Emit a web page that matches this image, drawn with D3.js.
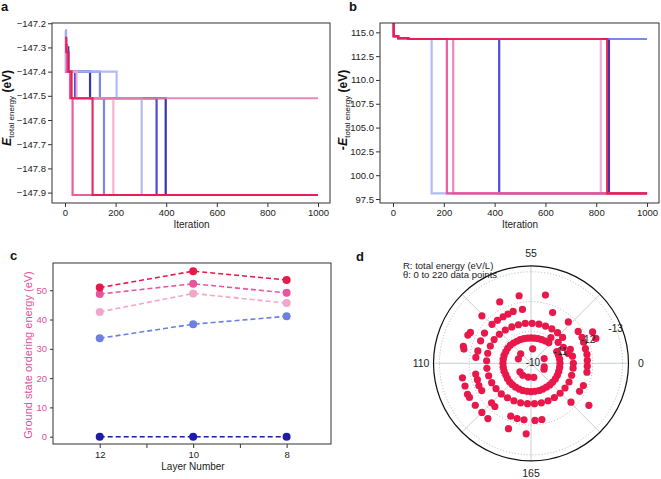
<!DOCTYPE html>
<html><head><meta charset="utf-8">
<script src="https://cdn.jsdelivr.net/npm/d3@7"></script>
<style>
body{margin:0;background:#fff}
svg{display:block}
text{font-family:"Liberation Sans",Arial,sans-serif}
</style>
</head><body>
<svg id="chart" width="661" height="479"></svg>
<script>
// ---------- DATA ----------
const seriesColors = ["#1f1f9c","#3a3ad0","#6a7ce4","#a9b5f2","#f5a8cd","#ee78b3","#ea4c93","#e8184c"];

// panel a: iteration where the energy steps, and the energy after that step
const aIters = [
  [0,13,99,398,1000],
  [0,10,40,362,1000],
  [0,4,138,154,1000],
  [0,3,204,303,1000],
  [0,6,46,191,1000],
  [0,22,1000],
  [0,8,20,30,1000],
  [0,5,14,26,109,1000]
];
const aEnergy = [
  [-147.30,-147.40,-147.51,-147.91,-147.91],
  [-147.31,-147.40,-147.51,-147.91,-147.91],
  [-147.23,-147.40,-147.51,-147.91,-147.91],
  [-147.23,-147.40,-147.51,-147.91,-147.91],
  [-147.27,-147.40,-147.51,-147.91,-147.91],
  [-147.40,-147.51,-147.51],
  [-147.29,-147.40,-147.51,-147.91,-147.91],
  [-147.26,-147.32,-147.40,-147.51,-147.91,-147.91]
];
const aTicks = [-147.2,-147.3,-147.4,-147.5,-147.6,-147.7,-147.8,-147.9];
const iterTicks = [0,200,400,600,800,1000];

// panel b: -E total energy
const bIters = [
  [0,3,20,60,850,1000],
  [0,3,20,60,418,1000],
  [0,3,20,60,1000],
  [0,3,20,60,152,1000],
  [0,3,20,60,818,1000],
  [0,3,20,60,237,1000],
  [0,3,20,60,212,1000],
  [0,3,20,60,843,1000]
];
const bEnergy = [
  [116.5,114.6,114.4,114.3,98.1,98.1],
  [116.5,114.6,114.4,114.3,98.1,98.1],
  [116.5,114.6,114.4,114.3,114.3],
  [116.5,114.6,114.4,114.3,98.1,98.1],
  [116.5,114.6,114.4,114.3,98.1,98.1],
  [116.5,114.6,114.4,114.3,98.1,98.1],
  [116.5,114.6,114.4,114.3,98.1,98.1],
  [116.5,114.6,114.4,114.3,98.1,98.1]
];
const bTicks = [97.5,100.0,102.5,105.0,107.5,110.0,112.5,115.0];

// panel c
const layerNumbers = [12,10,8];
const cColors = ["#1c1ca6","#6c7fe2","#f4a6ca","#e8559f","#e8184b"];
const cValues = [
  [0,0,0],
  [33.6,38.4,41.1],
  [42.6,48.9,45.6],
  [48.7,52.2,49.1],
  [50.9,56.5,53.5]
];
const cYTicks = [0,10,20,30,40,50];
const cXTicks = [12,11,10,9,8];

// panel d: [theta (data point index), total energy eV/L]
const polarPoints = [
  [51,-10.42],[84,-10.40],[98,-10.38],[12,-10.40],[211,-10.39],[205,-10.41],[133,-10.40],[144,-10.42],[158,-10.40],[172,-10.41],
  [0,-10.90],[5,-10.90],[10,-10.89],[15,-10.88],[30,-10.84],[35,-10.82],[40,-10.80],[45,-10.79],[50,-10.78],[55,-10.78],
  [60,-10.78],[65,-10.79],[70,-10.80],[75,-10.81],[80,-10.83],[85,-10.85],[90,-10.86],[95,-10.86],[100,-10.87],[105,-10.87],
  [110,-10.87],[115,-10.87],[120,-10.87],[125,-10.86],[130,-10.87],[135,-10.88],[140,-10.88],[145,-10.88],[150,-10.88],[155,-10.88],
  [160,-10.88],[165,-10.88],[170,-10.88],[175,-10.88],[180,-10.88],[185,-10.88],[190,-10.89],[195,-10.89],[200,-10.90],[205,-10.90],
  [210,-10.90],[215,-10.90],
  [32,-11.02],[23,-11.08],[16,-11.14],[9,-11.22],
  [0,-11.35],[6,-11.34],[12,-11.33],[24,-11.30],[30,-11.29],[36,-11.28],[42,-11.27],[48,-11.27],[54,-11.27],[60,-11.28],
  [66,-11.29],[72,-11.31],[78,-11.34],[84,-11.37],[90,-11.40],[96,-11.41],[102,-11.42],[108,-11.42],[114,-11.42],[120,-11.41],
  [126,-11.40],[132,-11.38],[138,-11.36],[144,-11.33],[150,-11.31],[156,-11.30],[162,-11.29],[168,-11.29],[174,-11.30],[180,-11.31],
  [186,-11.32],[192,-11.33],[198,-11.34],[204,-11.35],[210,-11.35],[216,-11.35],
  [1.8,-11.82],[5.5,-11.83],[9.2,-11.82],[13.4,-11.83],[16.5,-11.85],[20.8,-11.84],[29.3,-11.80],[40.9,-11.78],[60.5,-11.76],[66.6,-11.77],
  [70.3,-11.75],[73.9,-11.75],[78.2,-11.76],[82.5,-11.78],[89.8,-11.79],[95.3,-11.78],[102,-11.76],[106.3,-11.79],[116.7,-11.82],[120.4,-11.81],
  [124.1,-11.83],[127.7,-11.82],[137.5,-11.80],[140.6,-11.82],[152.2,-11.83],[156.4,-11.84],[160.7,-11.84],[167.4,-11.85],[171.7,-11.85],[193,-11.80],
  [201.7,-11.81],[205.9,-11.84],[214.5,-11.83],[218.2,-11.82],
  [12.8,-12.26],[16.5,-12.25],[47.7,-12.27],[61.1,-12.23],[71.5,-12.24],[83.1,-12.22],[93.5,-12.21],[95.3,-12.25],[101.4,-12.27],[102.7,-12.23],
  [117.3,-12.28],[121.6,-12.27],[125.9,-12.30],[127.7,-12.29],[132.6,-12.27],[137.5,-12.26],[141.8,-12.28],[153.4,-12.25],[162.6,-12.30],[198,-12.33]
];
const polarRTicks = [-10,-11,-12,-13];
const polarThetaLabels = [0,55,110,165];

// ---------- DRAW ----------
const svg = d3.select("#chart");
const FS = 9.5;

function styleAxis(g, col){
  g.select(".domain").remove();
  g.selectAll(".tick line").attr("stroke", "#333");
  g.selectAll(".tick text").attr("fill", col || "#222").style("font-size", FS+"px")
   .style("font-family", '"Liberation Sans",Arial,sans-serif');
}

function stepPanel(id, frame, xDom, yDom, yTicks, yFmt, iters, energies){
  const x = d3.scaleLinear().domain(xDom).range([frame.l, frame.r]);
  const y = d3.scaleLinear().domain(yDom).range([frame.b, frame.t]);
  svg.append("clipPath").attr("id", id).append("rect")
    .attr("x", frame.l).attr("y", frame.t).attr("width", frame.r-frame.l).attr("height", frame.b-frame.t);
  const line = d3.line().x(d=>x(d[0])).y(d=>y(d[1])).curve(d3.curveStepAfter);
  const gl = svg.append("g").attr("clip-path", `url(#${id})`);
  iters.forEach((it,i)=>{
    const pts = it.map((v,j)=>[v, energies[i][j]]);
    gl.append("path").attr("d", line(pts)).attr("fill","none")
      .attr("stroke", seriesColors[i]).attr("stroke-width", 2.2).attr("stroke-opacity", 0.9);
  });
  svg.append("rect").attr("x", frame.l).attr("y", frame.t).attr("width", frame.r-frame.l)
    .attr("height", frame.b-frame.t).attr("fill","none").attr("stroke","#333").attr("stroke-width",1);
  const ax = svg.append("g").attr("transform", `translate(0,${frame.b})`)
    .call(d3.axisBottom(x).tickValues(iterTicks).tickSize(4).tickPadding(2).tickFormat(d3.format("d")));
  styleAxis(ax);
  const ay = svg.append("g").attr("transform", `translate(${frame.l},0)`)
    .call(d3.axisLeft(y).tickValues(yTicks).tickSize(4).tickPadding(2).tickFormat(yFmt));
  styleAxis(ay);
  svg.append("text").attr("x", (x(0)+x(1000))/2).attr("y", frame.b+25).attr("text-anchor","middle")
    .style("font-size","10px").attr("fill","#222").text("Iteration");
  return {x,y};
}

// panel a
stepPanel("clipA", {l:52, r:330, t:23, b:203}, [-51.4,1047.4], [-147.943,-147.199], aTicks, d3.format(".1f"), aIters, aEnergy);
// panel b
stepPanel("clipB", {l:380, r:659, t:23, b:203}, [-51.2,1047], [97.08,115.98], bTicks, d3.format(".1f"), bIters, bEnergy);

function yLabel(xb, yc, prefix){
  const t = svg.append("text").attr("transform", `translate(${xb},${yc}) rotate(-90)`)
    .attr("text-anchor","middle").attr("fill","#111");
  t.append("tspan").style("font-size","12.5px").style("font-weight","bold").style("font-style","italic").text(prefix+"E");
  t.append("tspan").style("font-size","8px").attr("dy", 3).text("total energy");
  t.append("tspan").style("font-size","12px").style("font-weight","bold").attr("dy", -3).text(" (eV)");
}
yLabel(11, 108, "");
yLabel(347, 110, "-");

// panel c
const xC = d3.scaleLinear().domain([13, 7.05]).range([53, 331]);
const yC = d3.scaleLinear().domain([-2.5, 59.3]).range([444, 263]);
const cLine = d3.line().x((d,i)=>xC(layerNumbers[i])).y(d=>yC(d));
cValues.forEach((vals,i)=>{
  svg.append("path").attr("d", cLine(vals)).attr("fill","none").attr("stroke", cColors[i])
    .attr("stroke-width", 1.6).attr("stroke-dasharray","5,3");
  svg.selectAll(null).data(vals).enter().append("circle")
    .attr("cx",(d,j)=>xC(layerNumbers[j])).attr("cy", d=>yC(d)).attr("r", 4).attr("fill", cColors[i]);
});
svg.append("rect").attr("x",53).attr("y",263).attr("width",278).attr("height",181)
  .attr("fill","none").attr("stroke","#333").attr("stroke-width",1);
const axC = svg.append("g").attr("transform","translate(0,444)")
  .call(d3.axisBottom(xC).tickValues(cXTicks).tickSize(4).tickPadding(3).tickFormat(d=> d%2===0 ? d : ""));
styleAxis(axC);
const ayC = svg.append("g").attr("transform","translate(53,0)")
  .call(d3.axisLeft(yC).tickValues(cYTicks).tickSize(3).tickPadding(3));
styleAxis(ayC, "#e0509c");
svg.append("text").attr("x", 193).attr("y", 470).attr("text-anchor","middle").style("font-size","10px")
  .attr("fill","#222").text("Layer Number");
svg.append("text").attr("transform","translate(32,355) rotate(-90)").attr("text-anchor","middle")
  .style("font-size","11px").attr("fill","#e0509c").text("Ground state ordering energy (eV)");

// panel d (polar)
const cx = 531, cy = 363.3, R = 97.5;
const rS = d3.scaleLinear().domain([9.93, 13.2]).range([0, R]);
const aS = d3.scaleLinear().domain([0, 220]).range([0, 2*Math.PI]);
const gd = svg.append("g");
d3.range(0, 360, 45).forEach(deg=>{
  const a = deg*Math.PI/180;
  gd.append("line").attr("x1",cx).attr("y1",cy).attr("x2",cx+R*Math.cos(a)).attr("y2",cy-R*Math.sin(a))
    .attr("stroke","#c9cdd6").attr("stroke-width",1);
});
polarRTicks.forEach(v=>{
  gd.append("circle").attr("cx",cx).attr("cy",cy).attr("r", rS(-v)).attr("fill","none")
    .attr("stroke","#a9adb5").attr("stroke-width",0.9).attr("stroke-dasharray","1,2");
});
gd.append("circle").attr("cx",cx).attr("cy",cy).attr("r",R).attr("fill","none").attr("stroke","#111").attr("stroke-width",1.2);
gd.selectAll(null).data(polarPoints).enter().append("circle")
  .attr("cx", d=>cx + rS(-d[1])*Math.cos(aS(d[0])))
  .attr("cy", d=>cy - rS(-d[1])*Math.sin(aS(d[0])))
  .attr("r", 3.6).attr("fill","#e8184b");
const la = 22.5*Math.PI/180;
polarRTicks.forEach(v=>{
  gd.append("text").attr("x", cx + rS(-v)*Math.cos(la)).attr("y", cy - rS(-v)*Math.sin(la))
    .attr("text-anchor","middle").attr("dominant-baseline","central").style("font-size","10px")
    .attr("fill","#222").text(d3.format("d")(v).replace("−","-"));
});
polarThetaLabels.forEach(v=>{
  const a = aS(v);
  gd.append("text").attr("x", cx + 110*Math.cos(a)).attr("y", cy - 110*Math.sin(a))
    .attr("text-anchor","middle").attr("dominant-baseline","central").style("font-size","10.5px")
    .attr("fill","#222").text(v);
});
svg.append("text").attr("x",403).attr("y",268.5).style("font-size","9.5px").attr("fill","#222").text("R: total energy (eV/L)");
svg.append("text").attr("x",403).attr("y",278).style("font-size","9.5px").attr("fill","#222").text("θ: 0 to 220 data points");

// panel letters
[["a",1,11],["b",349,11],["c",10,260],["d",356,261]].forEach(p=>{
  svg.append("text").attr("x",p[1]).attr("y",p[2]).style("font-size","13px").style("font-weight","bold")
    .attr("fill","#111").text(p[0]);
});
</script>
</body></html>
